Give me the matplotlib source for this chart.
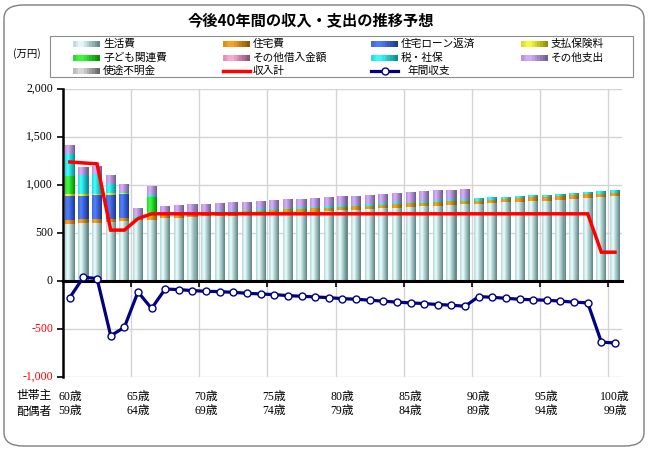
import matplotlib.pyplot as plt
import numpy as np
from matplotlib.colors import to_rgb
from matplotlib.patches import Rectangle, FancyBboxPatch
from matplotlib.lines import Line2D

plt.rcParams['font.family'] = ['Noto Sans CJK JP', 'DejaVu Sans']

# ---- data (万円) -------------------------------------------------------
ages = np.arange(60, 101)
head_labels = ['60歳', '65歳', '70歳', '75歳', '80歳', '85歳', '90歳', '95歳', '100歳']
spouse_labels = ['59歳', '64歳', '69歳', '74歳', '79歳', '84歳', '89歳', '94歳', '99歳']

living = [595, 605, 608, 615, 620, 640, 635, 653, 659, 667, 673, 675, 681, 689,
          695, 700, 709, 714, 720, 725, 735, 739, 748, 756, 765, 771, 777, 785,
          791, 800, 800, 808, 818, 828, 834, 838, 848, 858, 866, 874, 884]
housing = [38, 38, 40, 35, 35, 15, 37, 38, 38, 38, 38, 38, 38, 38, 38, 38, 38,
           38, 38, 38, 38, 38, 38, 38, 38, 38, 38, 38, 38, 38, 37, 37, 37, 37,
           37, 37, 37, 37, 37, 37, 37]
loan = [256, 246, 245, 250, 250, 0, 0, 0, 0, 0, 0, 0, 0, 0, 0, 0, 0, 0, 0, 0, 0,
        0, 0, 0, 0, 0, 0, 0, 0, 0, 0, 0, 0, 0, 0, 0, 0, 0, 0, 0, 0]
insurance = [17, 13, 13, 15, 12, 0, 0, 0, 0, 0, 0, 0, 0, 0, 0, 0, 0, 0, 0, 0, 0,
             0, 0, 0, 0, 0, 0, 0, 0, 0, 0, 0, 0, 0, 0, 0, 0, 0, 0, 0, 0]
child = [190, 0, 0, 0, 0, 0, 200, 0, 0, 0, 0, 0, 0, 0, 0, 0, 0, 0, 0, 0, 0, 0,
         0, 0, 0, 0, 0, 0, 0, 0, 0, 0, 0, 0, 0, 0, 0, 0, 0, 0, 0]
other_debt = [0] * 41
tax = [230, 205, 209, 100, 11, 24, 27, 10, 10, 11, 11, 12, 12, 13, 13, 14, 14,
       15, 15, 16, 16, 17, 17, 18, 18, 19, 19, 20, 20, 21, 25, 25, 25, 25, 25,
       25, 25, 25, 25, 25, 25]
other = [86, 83, 80, 85, 85, 85, 87, 82, 83, 84, 85, 86, 87, 88, 89, 90, 91, 92,
         93, 94, 95, 96, 97, 98, 99, 100, 101, 102, 103, 104, 0, 0, 0, 0, 0, 0,
         0, 0, 0, 0, 0]
unknown = [0] * 41

income = [1240, 1230, 1220, 530, 530, 650, 700, 700, 700, 700, 700, 700, 700,
          700, 700, 700, 700, 700, 700, 700, 700, 700, 700, 700, 700, 700, 700,
          700, 700, 700, 700, 700, 700, 700, 700, 700, 700, 700, 700, 300, 300]
balance = [-172, 40, 25, -570, -483, -114, -286, -83, -90, -100, -107, -111,
           -118, -128, -135, -142, -152, -159, -166, -173, -184, -190, -200,
           -210, -220, -228, -235, -245, -252, -263, -162, -170, -180, -190,
           -196, -200, -210, -220, -228, -636, -646]

series = [
    ('生活費', living, '#e8ffff', '#5a8282'),
    ('住宅費', housing, '#ffa726', '#8c5200'),
    ('住宅ローン返済', loan, '#5080ff', '#1c3590'),
    ('支払保険料', insurance, '#ffff40', '#8a8a00'),
    ('子ども関連費', child, '#40ff40', '#008a00'),
    ('その他借入金額', other_debt, '#ffb0d8', '#8c4a6a'),
    ('税・社保', tax, '#40ffff', '#008a8a'),
    ('その他支出', other, '#d8b0ff', '#6a5a8a'),
    ('使途不明金', unknown, '#e0e0e0', '#606060'),
]


def shade(c1, c2, t):
    # cylinder look: bright a bit left of centre, dark on the right
    if t < 0.3:
        f = 0.35 * (1 - t / 0.3)
    else:
        f = (t - 0.3) / 0.7
    a, b = np.array(to_rgb(c1)), np.array(to_rgb(c2))
    return tuple((1 - f) * a + f * b)


fig = plt.figure(figsize=(6.48, 4.5), dpi=100)
fig.patches.append(FancyBboxPatch((4 / 648, 4 / 450), 640 / 648, 441 / 450,
                                  boxstyle='round,pad=0,rounding_size=0.03',
                                  transform=fig.transFigure, fill=False,
                                  edgecolor='#7f7f7f', linewidth=1.0))
ax = fig.add_axes([63 / 648, 1 - 377 / 450, 558.8 / 648, 288 / 450])

x = np.arange(len(ages))
w = 0.74
n_sl = 10
bottom = np.zeros(len(ages))
for name, vals, c1, c2 in series:
    vals = np.array(vals, dtype=float)
    for k in range(n_sl):
        col = shade(c1, c2, (k + 0.5) / n_sl)
        ax.bar(x - w / 2 + k * w / n_sl, vals, w / n_sl * 1.08, bottom=bottom,
               align='edge', color=col, linewidth=0, zorder=2)
    bottom += vals

ax.plot(x, income, color='#ff0000', lw=2.5, zorder=4, solid_joinstyle='miter')
ax.plot(x, balance, color='#000080', lw=2.3, marker='o', ms=5,
        mfc='white', mec='#000080', mew=1.0, zorder=5)

ax.set_xlim(-0.5, 40.5)
ax.set_ylim(-1000, 2000)
ax.set_yticks(np.arange(-1000, 2001, 500))
ax.set_yticklabels([])
ax.set_xticks(np.arange(4.5, 40, 5))
ax.set_xticklabels([])
ax.set_axisbelow(True)
ax.grid(True, color='#d4d4d4', lw=1.0)
for s in ['top', 'right']:
    ax.spines[s].set_visible(False)
ax.spines['bottom'].set_position(('data', 0))
ax.spines['bottom'].set_linewidth(2.2)
ax.spines['bottom'].set_zorder(3)
ax.spines['left'].set_linewidth(1.8)
ax.tick_params(axis='x', direction='out', length=4, width=1.2)
ax.tick_params(axis='y', direction='out', length=4, width=1.2)

for v in np.arange(-1000, 2001, 500):
    ax.text(-0.018, v, f'{v:,}', transform=ax.get_yaxis_transform(),
            ha='right', va='center', fontsize=8.5, family='Liberation Serif',
            color='red' if v < 0 else 'black')

lab_fam = ['Liberation Serif', 'Noto Sans CJK JP']
for i, (h, s) in enumerate(zip(head_labels, spouse_labels)):
    ax.text(i * 5, -0.069, h, transform=ax.get_xaxis_transform(), ha='center',
            va='center', fontsize=8.5, family=lab_fam)
    ax.text(i * 5, -0.118, s, transform=ax.get_xaxis_transform(), ha='center',
            va='center', fontsize=8.5, family=lab_fam)
fig.text(34 / 648, 1 - 396 / 450, '世帯主', ha='center', va='center', fontsize=8.5)
fig.text(34 / 648, 1 - 411 / 450, '配偶者', ha='center', va='center', fontsize=8.5)

fig.text(311 / 648, 1 - 20 / 450, '今後40年間の収入・支出の推移予想', ha='center',
         va='center', fontsize=11, fontweight='bold')
fig.text(27 / 648, 1 - 54 / 450, '(万円)', ha='center', va='center', fontsize=7.5)

# ---- legend (drawn by hand, 4 columns) --------------------------------
fig.patches.append(Rectangle((50 / 648, 1 - 77 / 450), 583 / 648, 41 / 450,
                             transform=fig.transFigure, fill=False,
                             edgecolor='#8c8c8c', lw=0.8))
col_x = [73, 223, 371, 521]
row_y = [44, 58, 71]
sw_w, sw_h = 27, 6
entries = [(s[0], s[2], s[3]) for s in series] + [('収入計', None, None), ('年間収支', None, None)]
for j, (name, c1, c2) in enumerate(entries):
    cx, cy = col_x[j % 4], row_y[j // 4]
    if c1 is not None:
        for k in range(n_sl):
            col = shade(c1, c2, (k + 0.5) / n_sl)
            fig.patches.append(Rectangle(((cx + k * sw_w / n_sl) / 648, 1 - (cy + sw_h / 2) / 450),
                                         sw_w / n_sl * 1.1 / 648, sw_h / 450,
                                         transform=fig.transFigure, color=col, lw=0))
        tx = cx + 30
    elif name == '収入計':
        fig.lines.append(Line2D([cx / 648, (cx + sw_w) / 648], [1 - cy / 450] * 2,
                                transform=fig.transFigure, color='#ff0000', lw=2.5))
        tx = cx + 30
    else:
        fig.lines.append(Line2D([cx / 648, (cx + sw_w) / 648], [1 - cy / 450] * 2,
                                transform=fig.transFigure, color='#000080', lw=2.3))
        fig.lines.append(Line2D([(cx + sw_w / 2) / 648], [1 - cy / 450],
                                transform=fig.transFigure, marker='o', ms=5,
                                mfc='white', mec='#000080', mew=1.0))
        tx = cx + 36
    fig.text(tx / 648, 1 - cy / 450, name, ha='left', va='center', fontsize=7.7)

fig.savefig('out.png', dpi=100)
